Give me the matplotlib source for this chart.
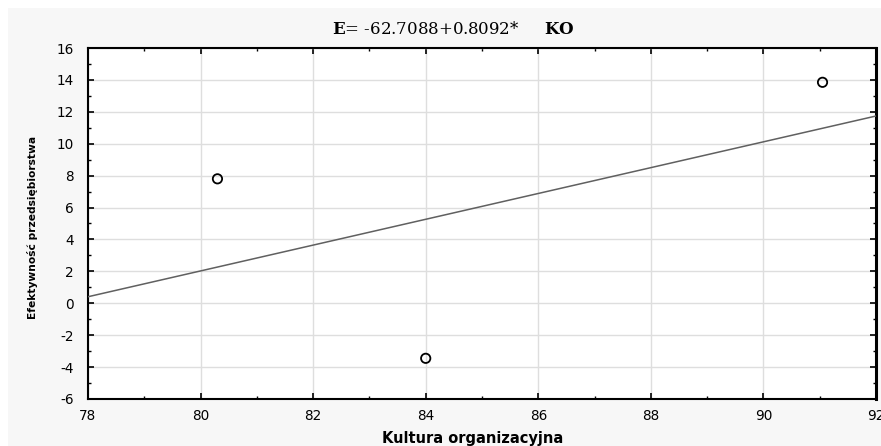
import matplotlib
matplotlib.use("Agg")
import matplotlib.pyplot as plt
import numpy as np
from matplotlib.patches import Rectangle
from matplotlib.ticker import MultipleLocator

# Data
ko = [80.3, 84.0, 91.05]
ef = [7.8, -3.45, 13.85]
intercept = -62.7088
slope = 0.8092
x_ticks = [78, 80, 82, 84, 86, 88, 90, 92]
y_ticks = [-6, -4, -2, 0, 2, 4, 6, 8, 10, 12, 14, 16]

plt.rcParams["axes.unicode_minus"] = False
plt.rcParams["mathtext.fontset"] = "custom"
plt.rcParams["mathtext.rm"] = "DejaVu Serif"
plt.rcParams["mathtext.bf"] = "DejaVu Serif:bold"

W, H = 881, 446
fig = plt.figure(figsize=(W / 100, H / 100), dpi=100)
fig.patch.set_facecolor("white")
fig.patches.append(Rectangle((8 / W, 0), 1 - 8 / W, 1 - 8 / H, transform=fig.transFigure,
                             facecolor="#f7f7f7", edgecolor="none", zorder=-10))

ax = fig.add_axes([88 / W, (H - 399) / H, 788 / W, 351 / H])
ax.set_facecolor("white")
ax.set_xlim(78, 92)
ax.set_ylim(-6, 16)
ax.set_xticks(x_ticks)
ax.set_yticks(y_ticks)
ax.xaxis.set_minor_locator(MultipleLocator(1))
ax.yaxis.set_minor_locator(MultipleLocator(1))
ax.grid(True, which="major", color="#dedede", lw=1)
ax.set_axisbelow(True)
ax.tick_params(which="both", direction="in", top=True, right=True, colors="black",
               labelsize=9.8)
ax.tick_params(which="major", length=4, width=1.2)
ax.tick_params(which="minor", length=2.5, width=1)
ax.tick_params(axis="x", pad=7)
ax.tick_params(axis="y", pad=10)
for lab in ax.get_xticklabels() + ax.get_yticklabels():
    lab.set_family("DejaVu Sans")
for s in ["left", "bottom", "top"]:
    ax.spines[s].set_linewidth(1.5)
ax.spines["right"].set_linewidth(2.2)

xs = np.array([78, 92])
ax.plot(xs, intercept + slope * xs, color="#606060", lw=1.1, zorder=3)
ax.scatter(ko, ef, s=45, facecolors="none", edgecolors="black", linewidths=1.3, zorder=4)

fig.text(453 / W, 1 - 29 / H, r"$\mathbf{E}$= -62.7088+0.8092*     $\mathbf{KO}$",
         family="DejaVu Serif", fontsize=12, ha="center", va="center")
fig.text(473 / W, 1 - 438 / H, "Kultura organizacyjna", family="DejaVu Sans",
         fontweight="bold", fontsize=10.5, ha="center", va="center")
fig.text(33 / W, 1 - 227 / H, "Efektywność przedsiębiorstwa", family="DejaVu Sans",
         fontweight="bold", fontsize=7.7, ha="center", va="center", rotation=90)

fig.savefig("out.png", dpi=100, facecolor=fig.get_facecolor())
